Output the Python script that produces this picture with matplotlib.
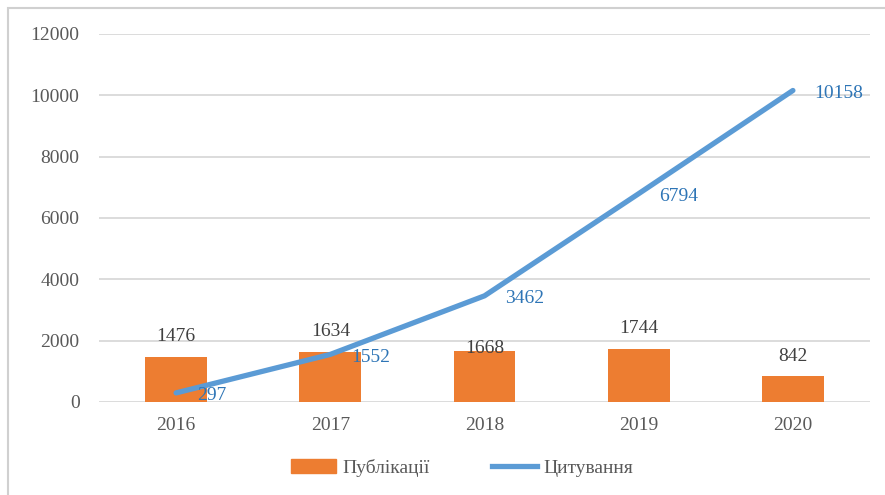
import matplotlib
matplotlib.use('Agg')
import matplotlib.pyplot as plt
from matplotlib.patches import Rectangle
from matplotlib.lines import Line2D
import numpy as np

years = ['2016', '2017', '2018', '2019', '2020']
publications = [1476, 1634, 1668, 1744, 842]
citations = [297, 1552, 3462, 6794, 10158]
y_ticks = [0, 2000, 4000, 6000, 8000, 10000, 12000]

BAR_COLOR = '#ED7D31'
LINE_COLOR = '#5B9BD5'
LINE_LABEL_COLOR = '#2E75B6'
TEXT_COLOR = '#595959'
FS = 14

plt.rcParams['font.family'] = ['Liberation Serif', 'DejaVu Serif']

fig = plt.figure(figsize=(8.85, 4.95), dpi=100)
# plot area in pixels: x 99..870, y 34..402 (from top)
ax = fig.add_axes([99 / 885, 1 - 402 / 495, (870 - 99) / 885, (402 - 34) / 495])

x = np.arange(len(years))
ax.bar(x, publications, width=0.4, color=BAR_COLOR, zorder=2)
ax.plot(x, citations, color=LINE_COLOR, linewidth=3.8, solid_capstyle='round', zorder=3)

# bar labels (1668 sits lower in the original)
bar_offsets = [14.5, 14.5, 1.5, 14.5, 14.5]
for xi, v, off in zip(x, publications, bar_offsets):
    ax.annotate(str(v), (xi, v), xytext=(0, off), textcoords='offset points',
                ha='center', va='center', fontsize=FS, color='#404040', zorder=4)

for xi, v in zip(x, citations):
    ax.annotate(str(v), (xi, v), xytext=(15, -2), textcoords='offset points',
                ha='left', va='center', fontsize=FS, color=LINE_LABEL_COLOR, zorder=4)

ax.set_xlim(-0.5, len(years) - 0.5)
ax.set_ylim(0, 12000)
ax.set_yticks(y_ticks)
ax.set_yticklabels([str(t) for t in y_ticks])
ax.set_xticks(x)
ax.set_xticklabels(years)
ax.tick_params(axis='both', length=0, labelsize=FS, colors=TEXT_COLOR)
ax.tick_params(axis='y', pad=14)
ax.tick_params(axis='x', pad=11)
ax.grid(axis='y', color='#D9D9D9', linewidth=1.3, zorder=0)
ax.set_axisbelow(True)
for s in ax.spines.values():
    s.set_visible(False)

handles = [Rectangle((0, 0), 1, 1, color=BAR_COLOR),
           Line2D([0], [0], color=LINE_COLOR, linewidth=3.8)]
fig.legend(handles, ['Публікації', 'Цитування'], loc='center',
           bbox_to_anchor=(462 / 885, 1 - 468 / 495), ncol=2, frameon=False,
           fontsize=FS, labelcolor=TEXT_COLOR, handlelength=2.3,
           handletextpad=0.35, columnspacing=3.2)

# outer chart border (top and left visible)
fig.patches.append(Rectangle((8 / 885, -0.1), 1.2, 1 - 8 / 495 + 0.1,
                             transform=fig.transFigure, fill=False,
                             edgecolor='#D0D0D0', linewidth=1.5))

fig.savefig('out.png', dpi=100)
